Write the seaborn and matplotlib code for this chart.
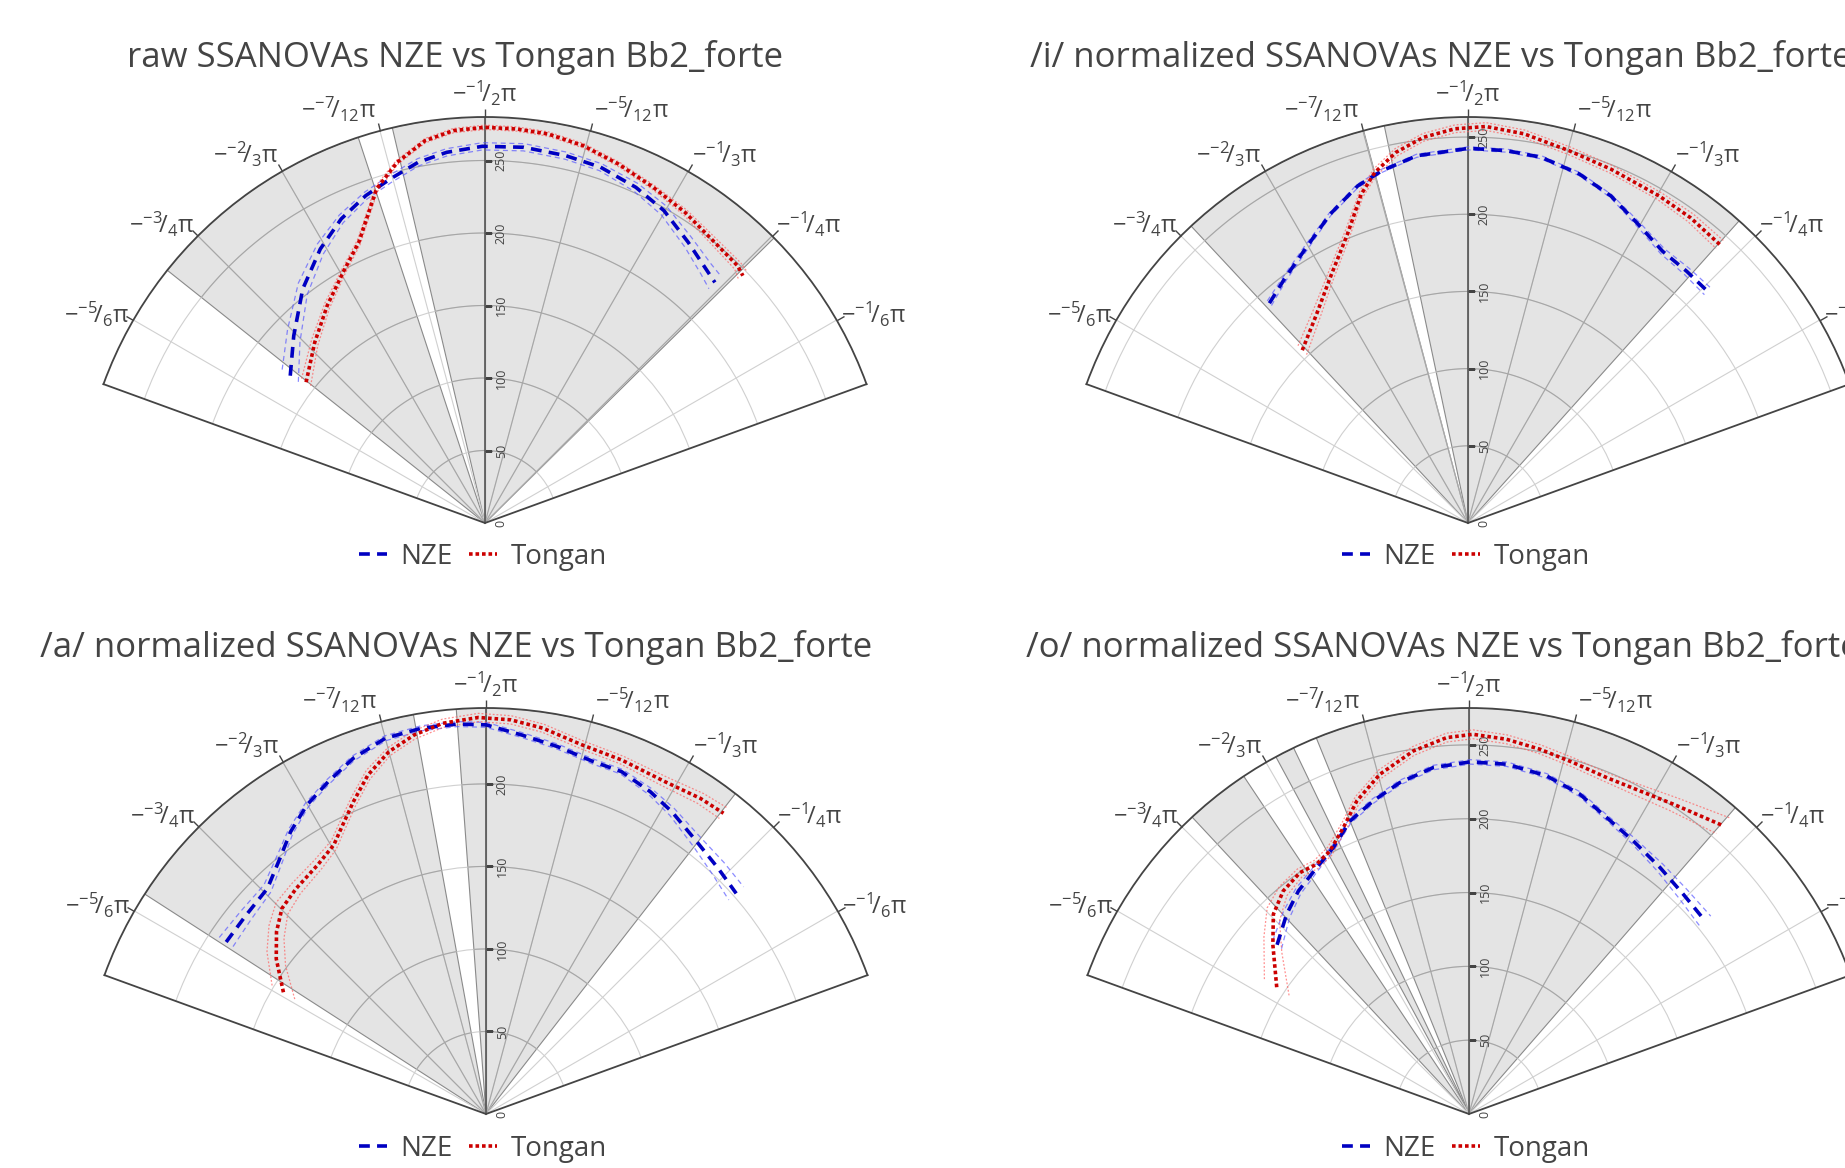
import numpy as np
import matplotlib
matplotlib.use("Agg")
import matplotlib.pyplot as plt
import seaborn as sns
from matplotlib.lines import Line2D

sns.set_theme(style="white")
plt.rcParams["font.family"] = ["Open Sans", "DejaVu Sans"]
plt.rcParams["mathtext.fontset"] = "custom"
plt.rcParams["mathtext.rm"] = "Open Sans"
plt.rcParams["mathtext.it"] = "Open Sans"
plt.rcParams["mathtext.bf"] = "Open Sans:bold"

# ---------------- data ----------------
titles = ["raw SSANOVAs NZE vs Tongan Bb2_forte",
          "/i/ normalized SSANOVAs NZE vs Tongan Bb2_forte",
          "/a/ normalized SSANOVAs NZE vs Tongan Bb2_forte",
          "/o/ normalized SSANOVAs NZE vs Tongan Bb2_forte"]
r_max = [280, 263, 246, 275]

ang_ticks = [-150, -135, -120, -105, -90, -75, -60, -45, -30]
ang_labels = [r"$-^{-5}\!/_{6}\pi$", r"$-^{-3}\!/_{4}\pi$", r"$-^{-2}\!/_{3}\pi$",
              r"$-^{-7}\!/_{12}\pi$", r"$-^{-1}\!/_{2}\pi$", r"$-^{-5}\!/_{12}\pi$",
              r"$-^{-1}\!/_{3}\pi$", r"$-^{-1}\!/_{4}\pi$", r"$-^{-1}\!/_{6}\pi$"]
r_ticks = [0, 50, 100, 150, 200, 250]

# shaded (significant) sectors, theta in degrees
shade1 = [(-141.5, -108.2), (-103.2, -44.6)]
shade2 = [(-133.0, -104.9), (-101.9, -48.1)]
shade3 = [(-147.2, -100.3), (-94.2, -52.1)]
shade4 = [(-133.0, -123.7), (-118.4, -115.6), (-112.1, -49.0)]

# raw
nze1_th = [-142.9, -135.6, -127.9, -121.0, -115.3, -110.0, -105.4, -100.5, -95.9, -90.4, -84.1, -77.6, -72.0, -65.8, -60.2, -54.1, -49.0, -46.3]
nze1_r = [168.4, 184.6, 204.6, 220.5, 232.0, 240.3, 246.1, 253.0, 257.0, 259.8, 260.5, 259.4, 258.0, 253.8, 248.3, 239.0, 232.2, 229.5]
nze1_lo = [161.4, 178.6, 199.6, 216.5, 229.0, 237.8, 243.6, 250.5, 254.5, 257.3, 258.0, 256.9, 255.5, 250.8, 244.8, 235.0, 227.2, 223.5]
nze1_hi = [175.4, 190.6, 209.6, 224.5, 235.0, 242.8, 248.6, 255.5, 259.5, 262.3, 263.0, 261.9, 260.5, 256.8, 251.8, 243.0, 237.2, 235.5]
ton1_th = [-141.8, -133.3, -126.0, -119.5, -114.2, -110.9, -108.0, -103.7, -98.9, -94.6, -90.0, -85.4, -80.8, -75.4, -69.6, -63.4, -57.2, -51.1, -45.5, -43.8]
ton1_r = [157.0, 171.2, 185.2, 198.7, 212.3, 226.9, 242.2, 256.0, 266.9, 271.5, 272.9, 272.6, 271.8, 268.9, 264.1, 259.0, 254.8, 250.3, 248.6, 246.4]
ton1_lo = [153.0, 168.2, 182.7, 196.7, 210.3, 224.9, 240.2, 254.5, 265.4, 270.0, 271.4, 271.1, 270.3, 267.4, 262.6, 257.5, 252.8, 247.8, 245.6, 242.4]
ton1_hi = [161.0, 174.2, 187.7, 200.7, 214.3, 228.9, 244.2, 257.5, 268.4, 273.0, 274.4, 274.1, 273.3, 270.4, 265.6, 260.5, 256.8, 252.8, 251.6, 250.4]

# /i/
nze2_th = [-132.1, -126.8, -120.5, -114.1, -108.1, -103.7, -97.95, -89.9, -84.1, -78.65, -72.3, -66.4, -60.3, -54.4, -49.0, -44.0]
nze2_r = [191.9, 198.0, 206.8, 219.0, 229.8, 234.9, 240.2, 242.7, 242.5, 241.6, 237.3, 231.2, 222.7, 216.5, 216.0, 215.9]
nze2_lo = [189.9, 196.5, 205.3, 218.0, 228.8, 233.9, 239.2, 241.7, 241.5, 240.6, 236.3, 230.2, 221.2, 214.5, 213.5, 212.9]
nze2_hi = [193.9, 199.5, 208.3, 220.0, 230.8, 235.9, 241.2, 243.7, 243.5, 242.6, 238.3, 232.2, 224.2, 218.5, 218.5, 218.9]
ton2_th = [-133.8, -126.1, -119.4, -112.7, -108.0, -104.9, -101.0, -96.6, -91.9, -87.4, -81.8, -74.8, -68.0, -59.7, -53.9, -47.9]
ton2_r = [155.1, 166.8, 182.1, 202.6, 223.9, 234.9, 244.6, 251.5, 255.5, 257.1, 254.7, 249.9, 247.2, 245.4, 244.7, 243.2]
ton2_lo = [151.1, 163.3, 179.1, 199.6, 221.4, 232.4, 242.1, 249.0, 253.0, 254.6, 252.2, 247.4, 244.7, 242.9, 241.7, 239.7]
ton2_hi = [159.1, 170.3, 185.1, 205.6, 226.4, 237.4, 247.1, 254.0, 258.0, 259.6, 257.2, 252.4, 249.7, 247.9, 247.7, 246.7]

# /a/
nze3_th = [-146.5, -140.4, -134.1, -128.9, -124.7, -120.1, -115.4, -110.5, -105.0, -99.5, -94.2, -90.0, -84.65, -79.0, -73.1, -68.4, -63.0, -58.4, -52.2, -46.6, -41.4]
nze3_r = [188.8, 188.8, 190.3, 198.9, 208.0, 216.4, 222.9, 230.0, 235.7, 237.0, 236.9, 235.8, 230.7, 226.8, 223.2, 223.1, 219.2, 215.0, 208.6, 204.8, 202.1]
nze3_lo = [183.8, 184.8, 187.3, 196.4, 206.0, 214.9, 221.4, 228.5, 234.2, 235.5, 235.4, 234.3, 229.2, 225.3, 221.7, 221.6, 217.2, 212.5, 205.1, 199.8, 196.1]
nze3_hi = [193.8, 192.8, 193.3, 201.4, 210.0, 217.9, 224.4, 231.5, 237.2, 238.5, 238.4, 237.3, 232.2, 228.3, 224.7, 224.6, 221.2, 217.5, 212.1, 209.8, 208.1]
ton3_th = [-149.0, -143.5, -139.0, -134.8, -130.1, -124.1, -119.5, -116.4, -113.0, -109.2, -105.0, -100.7, -96.3, -91.1, -86.4, -81.6, -75.4, -69.0, -61.7, -55.8, -51.7]
ton3_r = [143.2, 158.1, 168.2, 175.5, 178.6, 182.1, 187.3, 195.4, 205.6, 217.5, 227.3, 233.8, 238.2, 240.3, 239.3, 236.3, 231.1, 229.7, 228.7, 231.2, 232.2]
ton3_lo = [135.2, 151.1, 162.2, 170.5, 174.6, 178.6, 184.3, 192.4, 202.6, 214.5, 224.8, 231.3, 235.7, 237.8, 236.8, 233.8, 228.6, 227.2, 225.7, 227.7, 228.2]
ton3_hi = [151.2, 165.1, 174.2, 180.5, 182.6, 185.6, 190.3, 198.4, 208.6, 220.5, 229.8, 236.3, 240.7, 242.8, 241.8, 238.8, 233.6, 232.2, 231.7, 234.7, 236.2]

# /o/
nze4_th = [-138.6, -132.4, -127.4, -121.7, -117.0, -112.1, -107.0, -101.8, -95.9, -89.8, -83.8, -77.1, -70.9, -65.1, -59.0, -52.2, -45.7, -39.3]
nze4_r = [173.3, 183.2, 190.2, 196.2, 202.5, 214.2, 221.8, 229.3, 235.9, 238.5, 238.3, 235.0, 229.3, 221.4, 215.9, 211.2, 207.9, 206.6]
nze4_lo = [169.3, 180.2, 187.7, 194.2, 201.0, 212.7, 220.3, 227.8, 234.4, 237.0, 236.8, 233.5, 227.8, 219.9, 213.9, 208.2, 203.9, 201.6]
nze4_hi = [177.3, 186.2, 192.7, 198.2, 204.0, 215.7, 223.3, 230.8, 237.4, 240.0, 239.8, 236.5, 230.8, 222.9, 217.9, 214.2, 211.9, 211.6]
ton4_th = [-146.6, -139.2, -134.4, -129.8, -125.0, -121.4, -117.9, -113.7, -109.7, -104.7, -98.7, -93.4, -89.4, -84.3, -79.0, -73.5, -67.7, -62.1, -56.6, -48.6]
ton4_r = [156.0, 175.5, 189.4, 196.6, 199.6, 198.2, 201.5, 211.8, 225.3, 237.9, 248.8, 255.4, 257.2, 255.1, 251.7, 248.3, 246.2, 247.6, 251.4, 260.3]
ton4_lo = [146.0, 167.5, 183.4, 192.6, 196.6, 195.2, 198.5, 208.8, 222.3, 234.9, 245.8, 252.4, 254.2, 252.1, 248.7, 245.3, 243.2, 243.6, 246.4, 253.3]
ton4_hi = [166.0, 183.5, 195.4, 200.6, 202.6, 201.2, 204.5, 214.8, 228.3, 240.9, 251.8, 258.4, 260.2, 258.1, 254.7, 251.3, 249.2, 251.6, 256.4, 267.3]

panels = [
    dict(shade=shade1, nze=(nze1_th, nze1_r, nze1_lo, nze1_hi), ton=(ton1_th, ton1_r, ton1_lo, ton1_hi)),
    dict(shade=shade2, nze=(nze2_th, nze2_r, nze2_lo, nze2_hi), ton=(ton2_th, ton2_r, ton2_lo, ton2_hi)),
    dict(shade=shade3, nze=(nze3_th, nze3_r, nze3_lo, nze3_hi), ton=(ton3_th, ton3_r, ton3_lo, ton3_hi)),
    dict(shade=shade4, nze=(nze4_th, nze4_r, nze4_lo, nze4_hi), ton=(ton4_th, ton4_r, ton4_lo, ton4_hi)),
]

# ---------------- layout (pixels) ----------------
W, H = 1845, 1168
R_PX = 406
centers = [(485, 523), (1468, 523), (486, 1114), (1469, 1114)]
title_pos = [(455, 67), (1441, 67), (456, 657), (1443, 657)]
legend_pos = [(483, 557), (1466, 557), (483, 1149), (1466, 1149)]

TXT = "#444444"
BLUE, RED = "#0000c2", "#cc0000"
BLUE_CI, RED_CI = "#5a5aff", "#ff6060"
DASH = (0, (3, 2))
DOT = (0, (1, 0.8))
GRID_IN = "#a6a6a6"

fig = plt.figure(figsize=(W / 100, H / 100), dpi=100)
# polar axes keep a square box; the 20..160 deg wedge is fitted across its width
side = 2 * np.cos(np.deg2rad(20)) * R_PX

for i, p in enumerate(panels):
    cx, cy = centers[i]
    rm = r_max[i]
    ticks_in = [v for v in r_ticks if v <= rm]
    box_cy = cy - R_PX / 2
    ax = fig.add_axes([(cx - side / 2) / W, 1 - (box_cy + side / 2) / H, side / W, side / H], projection="polar")
    ax.set_theta_direction(-1)
    ax.set_theta_zero_location("E")

    # gray sectors, with a darker grid inside them
    for t0, t1 in p["shade"]:
        ax.bar(np.deg2rad((t0 + t1) / 2), rm, width=np.deg2rad(t1 - t0), bottom=0,
               color="#e4e4e4", edgecolor="#8a8a8a", linewidth=0.8, zorder=0.2)
        arc = np.deg2rad(np.linspace(t0, t1, 80))
        for rv in ticks_in[1:]:
            ax.plot(arc, np.full(arc.size, rv), color=GRID_IN, lw=0.8, zorder=0.6)
        for tv in ang_ticks:
            if t0 < tv < t1:
                ax.plot(np.deg2rad([tv, tv]), [0, rm], color=GRID_IN, lw=0.8, zorder=0.6)

    # SSANOVA curves with confidence lines
    th, r, lo, hi = p["nze"]
    x = np.deg2rad(th)
    sns.lineplot(x=x, y=lo, ax=ax, color=BLUE_CI, lw=0.9, linestyle=(0, (4, 3)), alpha=0.7, sort=False, estimator=None, zorder=4)
    sns.lineplot(x=x, y=hi, ax=ax, color=BLUE_CI, lw=0.9, linestyle=(0, (4, 3)), alpha=0.7, sort=False, estimator=None, zorder=4)
    sns.lineplot(x=x, y=r, ax=ax, color=BLUE, lw=2.6, linestyle=DASH, sort=False, estimator=None, zorder=5)
    th, r, lo, hi = p["ton"]
    x = np.deg2rad(th)
    sns.lineplot(x=x, y=lo, ax=ax, color=RED_CI, lw=0.9, linestyle=(0, (1.5, 1.5)), alpha=0.7, sort=False, estimator=None, zorder=4)
    sns.lineplot(x=x, y=hi, ax=ax, color=RED_CI, lw=0.9, linestyle=(0, (1.5, 1.5)), alpha=0.7, sort=False, estimator=None, zorder=4)
    sns.lineplot(x=x, y=r, ax=ax, color=RED, lw=2.6, linestyle=DOT, sort=False, estimator=None, zorder=5)

    # axes
    ax.set_thetamin(-160)
    ax.set_thetamax(-20)
    ax.set_ylim(0, rm)
    ax.set_xticks(np.deg2rad(ang_ticks))
    ax.set_xticklabels([])
    ax.set_yticks(ticks_in)
    ax.set_yticklabels([])
    ax.set_xlabel("")
    ax.set_ylabel("")
    ax.grid(True, color="#d0d0d0", lw=0.8)
    ax.tick_params(axis="x", bottom=False, top=True, length=6, width=1, color=TXT, direction="out")
    for name in ["polar", "start", "end"]:
        ax.spines[name].set_color(TXT)
        ax.spines[name].set_linewidth(1.3)
    ax.spines["inner"].set_visible(False)
    ax.axvline(np.deg2rad(-90), color="#555555", lw=1.2, zorder=0.7)

    # angular labels
    for tv, lab in zip(ang_ticks, ang_labels):
        a = np.deg2rad(-tv)
        c, s = np.cos(a), np.sin(a)
        ha = "center" if abs(c) < 0.05 else ("right" if c < 0 else "left")
        dx = 0 if ha == "center" else 4 * np.sign(c)
        dy = 24 * s - 8 * abs(c)
        ax.annotate(lab, xy=(np.deg2rad(tv), rm), xytext=(dx * 0.72, dy * 0.72), textcoords="offset points",
                    ha=ha, va="center", fontsize=17, color=TXT, annotation_clip=False)

    # radial labels, rotated along the -pi/2 axis
    for rv in ticks_in:
        ax.annotate(str(rv), xy=(np.deg2rad(-90), rv), xytext=(7, 0), textcoords="offset points",
                    rotation=90, ha="left", va="center", fontsize=9, color=TXT, annotation_clip=False)
    ax.plot(np.deg2rad(np.full(len(ticks_in) - 1, -90)), ticks_in[1:], ls="none", marker=1, ms=5, mew=1, color=TXT)

    handles = [Line2D([], [], color=BLUE, lw=2.6, ls=DASH), Line2D([], [], color=RED, lw=2.6, ls=DOT)]
    lx, ly = legend_pos[i]
    ax.legend(handles, ["NZE", "Tongan"], loc="center", bbox_to_anchor=(lx / W, 1 - ly / H),
              bbox_transform=fig.transFigure, ncol=2, frameon=False, fontsize=20,
              handlelength=1.0, handletextpad=0.5, columnspacing=0.6, labelcolor=TXT)

    tx, ty = title_pos[i]
    fig.text(tx / W, 1 - ty / H, titles[i], ha="center", va="baseline", fontsize=25, color=TXT)

fig.savefig("out.png", dpi=100)
